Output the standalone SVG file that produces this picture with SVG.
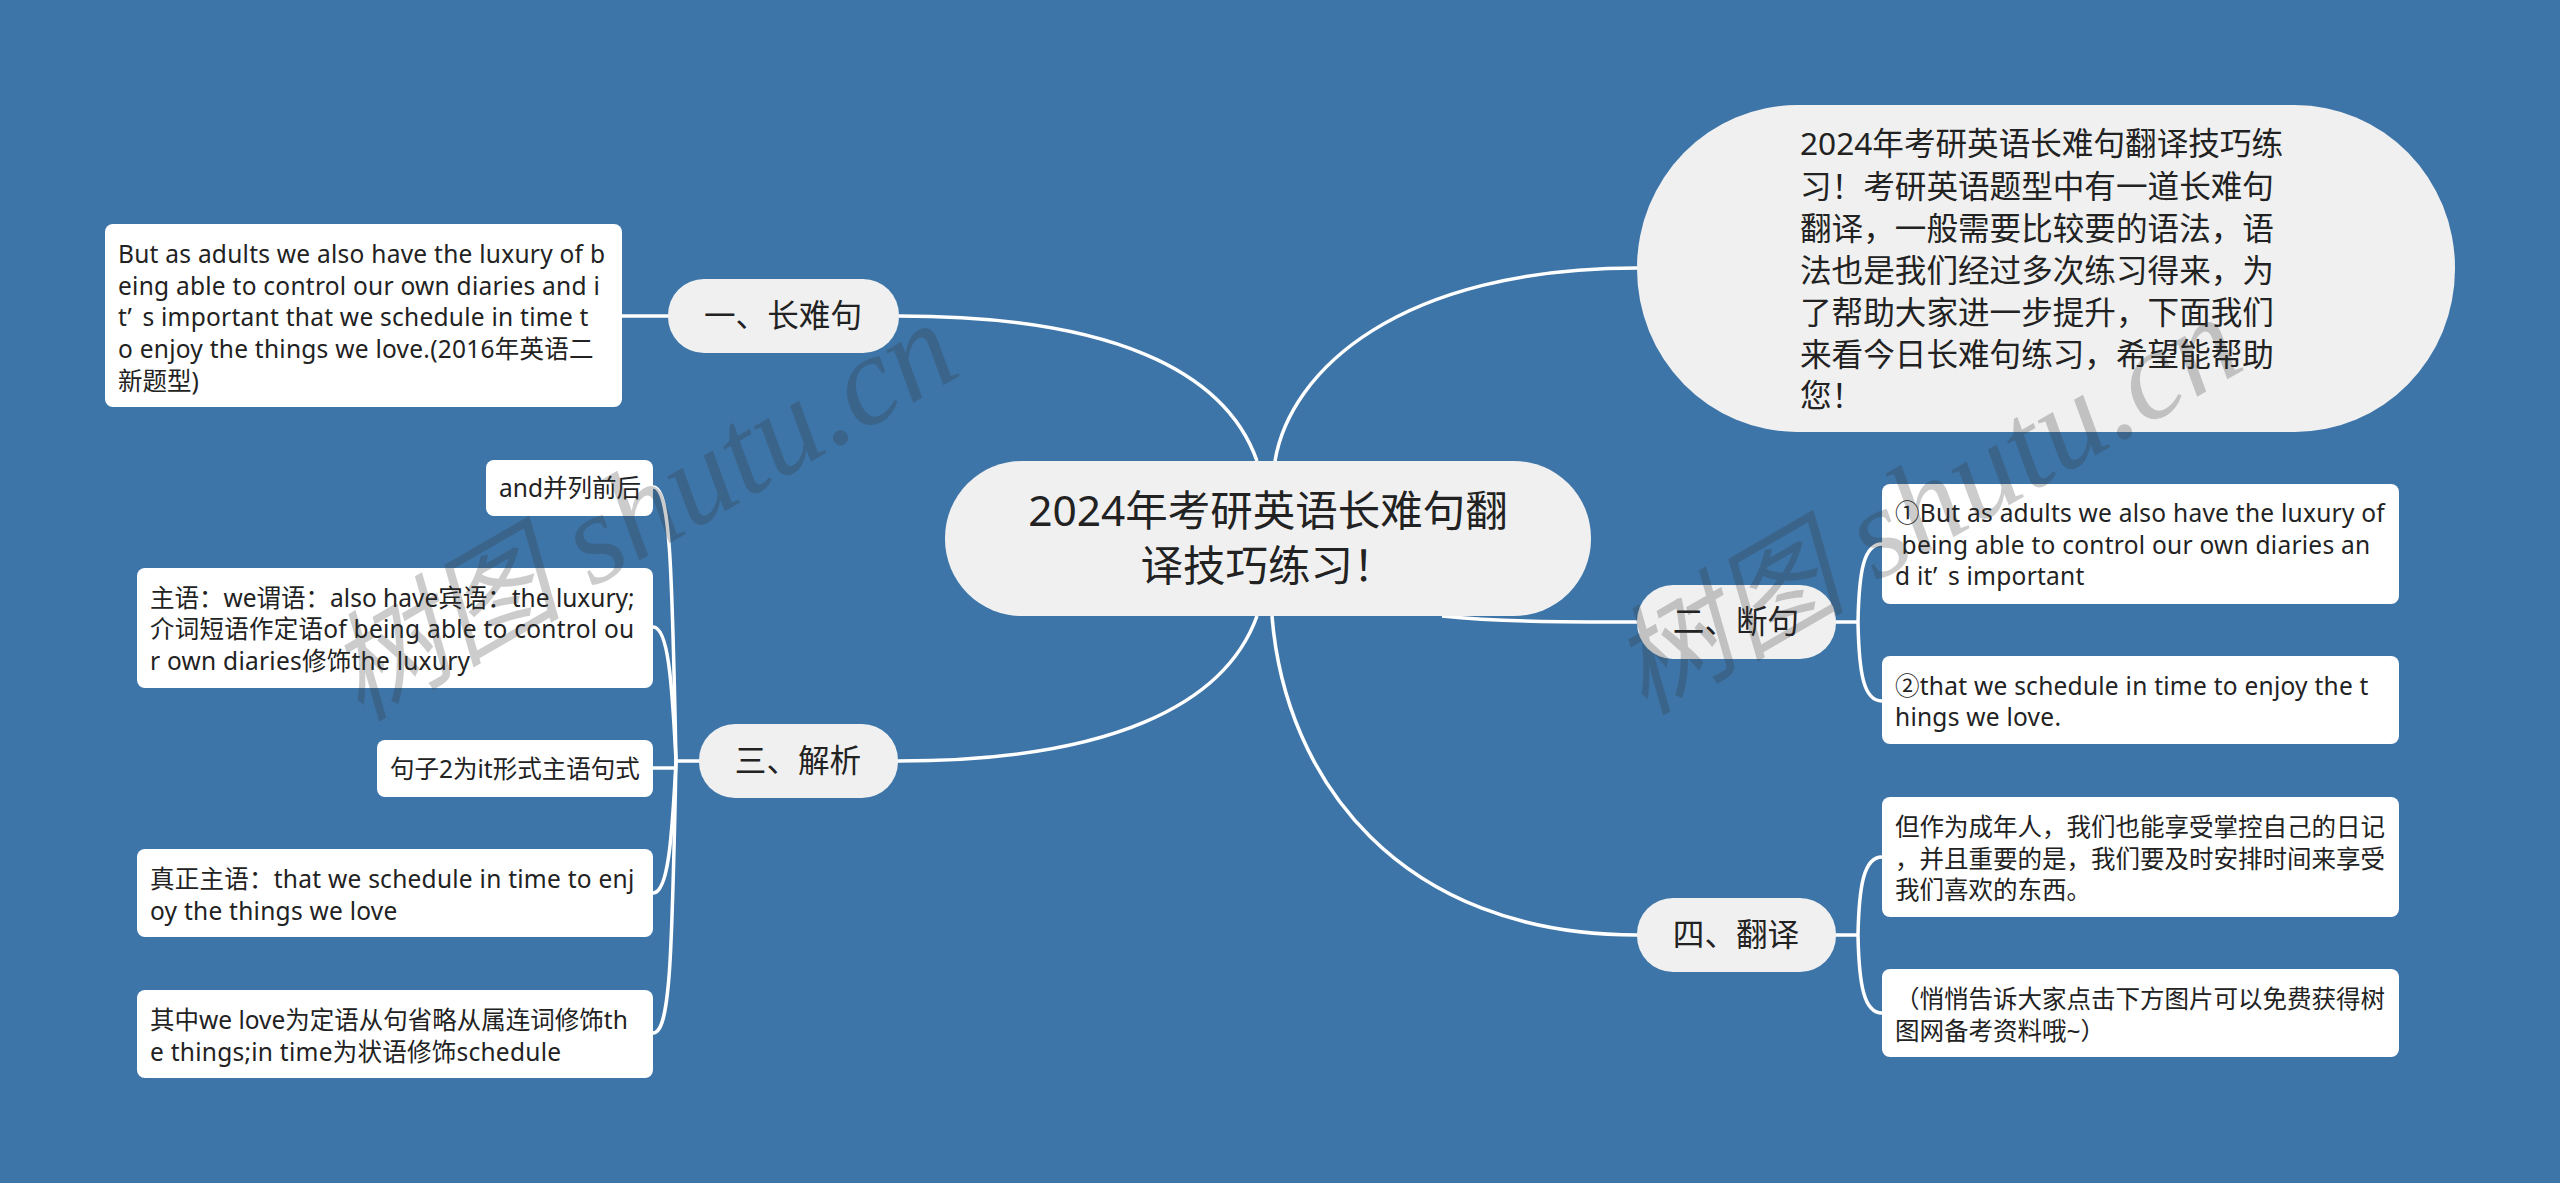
<svg xmlns="http://www.w3.org/2000/svg" width="2560" height="1183" viewBox="0 0 2560 1183">
<style>
text{font-family:"Noto Sans","Noto Sans CJK SC",sans-serif;fill:#222}
.leaf{fill:#fff}
.sub,.root{fill:#f0f0f0}
.t{font-size:24.5px}
.l{letter-spacing:.25px}
.s{font-size:31.6px;text-anchor:middle}
.r{font-size:42.5px;text-anchor:middle}
.b{font-size:31.6px}
#connectors path{fill:none;stroke:#fff;stroke-width:3.5}
.wm{font-family:"Liberation Serif","Noto Sans CJK SC",serif;font-style:italic;font-size:128px;fill:#333;fill-opacity:.25}
.wc{font-size:118px}
</style>
<rect width="2560" height="1183" fill="#3e75a8"/>
<g id="connectors">
<path d="M1257 461C1225 370 1110 316 899 316"/>
<path d="M1275 461C1290 370 1400 268 1637 268"/>
<path d="M1257 616C1225 705 1110 761 898 761"/>
<path d="M1272 616C1285 780 1400 935 1637 935"/>
<path d="M1442 616C1500 622 1560 622 1637 622"/>
<path d="M622 316H668"/>
<path d="M699 761H676"/>
<path d="M653 487C670 487 672 560 676 761"/>
<path d="M653 627C668 627 672 680 676 761"/>
<path d="M653 768H676"/>
<path d="M653 893C668 893 672 840 676 761"/>
<path d="M653 1033C670 1033 672 960 676 761"/>
<path d="M1836 622H1858"/>
<path d="M1882 544C1864 544 1859 570 1858 622"/>
<path d="M1882 701C1864 701 1859 675 1858 622"/>
<path d="M1836 935H1858"/>
<path d="M1882 857C1864 857 1859 885 1858 935"/>
<path d="M1882 1013C1864 1013 1859 985 1858 935"/>
</g>
<g id="root"><rect class="root" x="945" y="461" width="646" height="155" rx="77"/>
<text class="r" x="1268" y="526">2024年考研英语长难句翻</text><text class="r" x="1268" y="581">译技巧练习！</text></g>
<g id="intro"><rect class="sub" x="1637" y="105" width="818" height="327" rx="160" ry="163"/>
<text class="b" x="1800" y="155">2024年考研英语长难句翻译技巧练</text>
<text class="b" x="1800" y="198">习！考研英语题型中有一道长难句</text>
<text class="b" x="1800" y="240">翻译，一般需要比较要的语法，语</text>
<text class="b" x="1800" y="282">法也是我们经过多次练习得来，为</text>
<text class="b" x="1800" y="324">了帮助大家进一步提升，下面我们</text>
<text class="b" x="1800" y="366">来看今日长难句练习，希望能帮助</text>
<text class="b" x="1800" y="407">您！</text></g>
<g id="n1"><rect class="sub" x="668" y="279" width="231" height="74" rx="36"/><text class="s" x="783" y="327">一、长难句</text></g>
<g id="n2"><rect class="sub" x="1637" y="585" width="199" height="74" rx="36"/><text class="s" x="1736" y="633">二、断句</text></g>
<g id="n3"><rect class="sub" x="699" y="724" width="199" height="74" rx="36"/><text class="s" x="798" y="772">三、解析</text></g>
<g id="n4"><rect class="sub" x="1637" y="898" width="199" height="74" rx="36"/><text class="s" x="1736" y="946">四、翻译</text></g>
<g id="l1"><rect class="leaf" x="105" y="224" width="517" height="183" rx="8"/>
<text class="t l" x="118" y="263">But as adults we also have the luxury of b</text>
<text class="t l" x="118" y="295">eing able to control our own diaries and i</text>
<text class="t l" x="118" y="326">t’<tspan dx="11">s important that we schedule in time t</tspan></text>
<text class="t l" x="118" y="358">o enjoy the things we love.(2016年英语二</text>
<text class="t" x="118" y="390">新题型)</text></g>
<g id="l2"><rect class="leaf" x="486" y="460" width="167" height="56" rx="8"/><text class="t" x="499" y="497">and并列前后</text></g>
<g id="l3"><rect class="leaf" x="137" y="568" width="516" height="120" rx="8"/>
<text class="t" x="150" y="607">主语：we谓语：also have宾语：the luxury;</text>
<text class="t l" x="150" y="638">介词短语作定语of being able to control ou</text>
<text class="t l" x="150" y="670">r own diaries修饰the luxury</text></g>
<g id="l4"><rect class="leaf" x="377" y="740" width="276" height="57" rx="8"/><text class="t" x="390" y="778">句子2为it形式主语句式</text></g>
<g id="l5"><rect class="leaf" x="137" y="849" width="516" height="88" rx="8"/>
<text class="t l" x="150" y="888">真正主语：that we schedule in time to enj</text>
<text class="t l" x="150" y="920">oy the things we love</text></g>
<g id="l6"><rect class="leaf" x="137" y="990" width="516" height="88" rx="8"/>
<text class="t" x="150" y="1029">其中we love为定语从句省略从属连词修饰th</text>
<text class="t l" x="150" y="1061">e things;in time为状语修饰schedule</text></g>
<g id="l7"><rect class="leaf" x="1882" y="484" width="517" height="120" rx="8"/>
<text class="t l" x="1895" y="522">①But as adults we also have the luxury of</text>
<text class="t l" x="1895" y="554" xml:space="preserve"> being able to control our own diaries an</text>
<text class="t l" x="1895" y="585">d it’<tspan dx="11">s important</tspan></text></g>
<g id="l8"><rect class="leaf" x="1882" y="656" width="517" height="88" rx="8"/>
<text class="t l" x="1895" y="695">②that we schedule in time to enjoy the t</text>
<text class="t l" x="1895" y="726">hings we love.</text></g>
<g id="l9"><rect class="leaf" x="1882" y="797" width="517" height="120" rx="8"/>
<text class="t" x="1895" y="836">但作为成年人，我们也能享受掌控自己的日记</text>
<text class="t" x="1895" y="868">，并且重要的是，我们要及时安排时间来享受</text>
<text class="t" x="1895" y="899">我们喜欢的东西。</text></g>
<g id="l10"><rect class="leaf" x="1882" y="969" width="517" height="88" rx="8"/>
<text class="t" x="1895" y="1008">（悄悄告诉大家点击下方图片可以免费获得树</text>
<text class="t" x="1895" y="1040">图网备考资料哦~）</text></g>
<text class="wm" transform="translate(360 722) rotate(-30)"><tspan class="wc">树图</tspan> shutu.cn</text>
<text class="wm" transform="translate(1644 716) rotate(-30)"><tspan class="wc">树图</tspan> shutu.cn</text>
</svg>
